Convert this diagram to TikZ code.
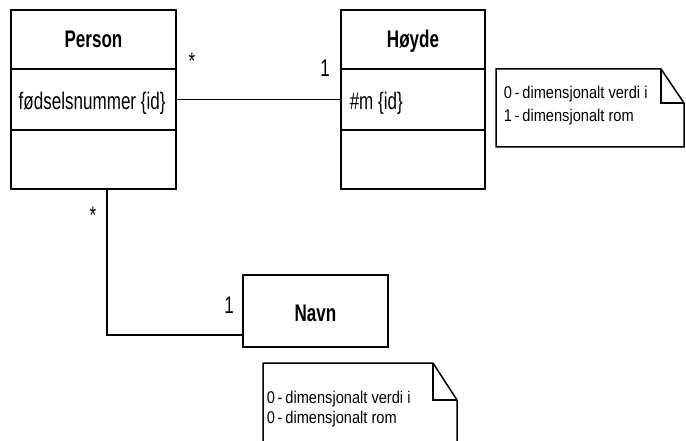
\documentclass[tikz,border=0pt]{standalone}
\usepackage{fontspec}
\setmainfont{Liberation Sans}[FakeStretch=0.71]
\newfontfamily\notefont{Liberation Sans}[FakeStretch=0.86]
\begin{document}
\begin{tikzpicture}[x=1pt,y=-1pt,
  line width=1.5pt,
  part/.style={draw, line width=1.5pt, inner sep=0pt},
  classname/.style={font=\fontsize{24}{28}\selectfont\bfseries, anchor=base, inner sep=0pt},
  attrtext/.style={font=\fontsize{24}{28}\selectfont, anchor=base west, inner sep=0pt},
  mult/.style={font=\fontsize{24}{28}\selectfont, anchor=base, inner sep=0pt},
  notetext/.style={font=\notefont\fontsize{17}{20}\selectfont, anchor=base west, inner sep=0pt},
  notebox/.style={draw, line width=1.5pt, line join=miter}]
\useasboundingbox (0,0) rectangle (686,441);
\clip (0,0) rectangle (686,441);

% Person
\node[part, minimum width=165pt, minimum height=59pt] (personhead) at (93.5,39.5) {};
\node[part, minimum width=165pt, minimum height=61pt] (personattr) at (93.5,99.5) {};
\node[part, minimum width=165pt, minimum height=59pt] (personops) at (93.5,159.5) {};
\node[classname] (personname) at (93.5,48) {Person};
\node[attrtext] (personid) at (18,110) {fødselsnummer \{id\}};

% Høyde
\node[part, minimum width=144pt, minimum height=59pt] (hoydehead) at (413,39.5) {};
\node[part, minimum width=144pt, minimum height=61pt] (hoydeattr) at (413,99.5) {};
\node[part, minimum width=144pt, minimum height=59pt] (hoydeops) at (413,159.5) {};
\node[classname] (hoydename) at (413,48) {Høyde};
\node[attrtext] (hoydeid) at (349,110) {\#m \{id\}};

% Navn
\node[part, minimum width=145pt, minimum height=72pt] (navn) at (315.5,311) {};
\node[classname] (navnname) at (315.5,321) {Navn};

% Associations
\draw (personattr.east) -- (hoydeattr.west);
\coordinate (bend) at (107,335);
\draw (personops.south -| bend) -- (bend) -- (navn.west |- bend);

% Multiplicities
\node[mult] (m1) at (192,70) {*};
\node[mult] (m2) at (325,77) {1};
\node[mult] (m3) at (93,223) {*};
\node[mult] (m4) at (229,313) {1};

% Notes
\draw[notebox] (496,69) -- (661,69) -- (684,103) -- (684,147) -- (496,147) -- cycle;
\draw[notebox] (661,69) -- (661,103) -- (684,103);
\node[notetext] (note1a) at (503,99) {0\,-\,dimensjonalt verdi i};
\node[notetext] (note1b) at (503,122) {1\,-\,dimensjonalt rom};

\draw[notebox] (263,460) -- (263,363) -- (433,363) -- (457,400) -- (457,460);
\draw[notebox] (433,363) -- (433,400) -- (457,400);
\node[notetext] (note2a) at (266,403) {0\,-\,dimensjonalt verdi i};
\node[notetext] (note2b) at (266,423) {0\,-\,dimensjonalt rom};
\end{tikzpicture}
\end{document}
